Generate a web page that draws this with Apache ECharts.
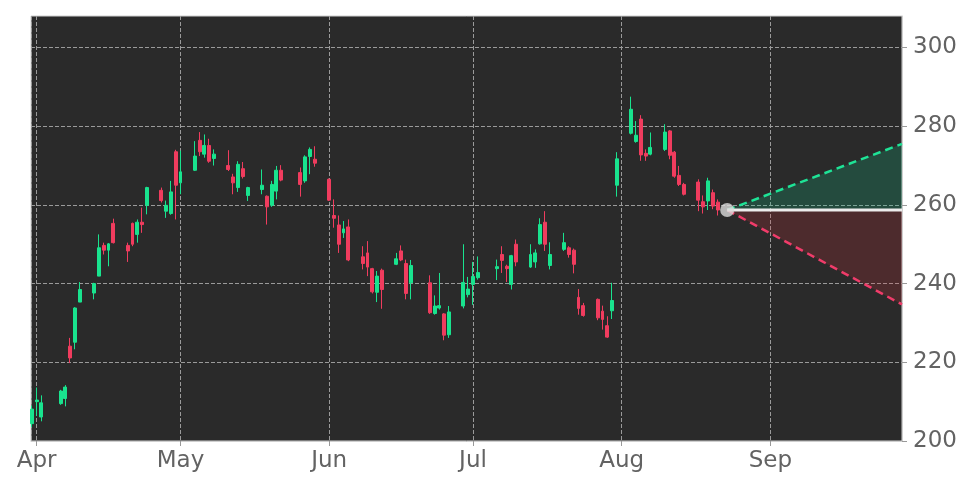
<!DOCTYPE html>
<html>
<head>
<meta charset="utf-8">
<script src="https://cdn.jsdelivr.net/npm/echarts@6/dist/echarts.min.js"></script>
<style>
html,body{margin:0;padding:0;background:#fff;}
#chart{width:972px;height:486px;}
</style>
</head>
<body>
<div id="chart"></div>
<script>
const dates = ['2015-03-31','2015-04-01','2015-04-02','2015-04-06','2015-04-07','2015-04-08','2015-04-09','2015-04-10',
'2015-04-13','2015-04-14','2015-04-15','2015-04-16','2015-04-17','2015-04-20','2015-04-21','2015-04-22','2015-04-23','2015-04-24',
'2015-04-27','2015-04-28','2015-04-29','2015-04-30','2015-05-01','2015-05-04','2015-05-05','2015-05-06','2015-05-07','2015-05-08',
'2015-05-11','2015-05-12','2015-05-13','2015-05-14','2015-05-15','2015-05-18','2015-05-19','2015-05-20','2015-05-21','2015-05-22',
'2015-05-26','2015-05-27','2015-05-28','2015-05-29','2015-06-01','2015-06-02','2015-06-03','2015-06-04','2015-06-05',
'2015-06-08','2015-06-09','2015-06-10','2015-06-11','2015-06-12','2015-06-15','2015-06-16','2015-06-17','2015-06-18',
'2015-06-22','2015-06-23','2015-06-24','2015-06-25','2015-06-26','2015-06-29','2015-06-30','2015-07-01','2015-07-02',
'2015-07-06','2015-07-07','2015-07-08','2015-07-09','2015-07-10','2015-07-13','2015-07-14','2015-07-15','2015-07-16','2015-07-17',
'2015-07-20','2015-07-21','2015-07-22','2015-07-23','2015-07-24','2015-07-27','2015-07-28','2015-07-29','2015-07-30','2015-07-31',
'2015-08-03','2015-08-04','2015-08-05','2015-08-06','2015-08-07','2015-08-10','2015-08-11','2015-08-12','2015-08-13','2015-08-14',
'2015-08-17','2015-08-18','2015-08-19','2015-08-20','2015-08-21'];
const opens = [204.4,210.0,206.1,209.5,210.8,224.1,225.1,235.3,
237.6,241.9,249.7,248.5,255.3,249.7,255.3,252.5,255.6,259.9,
263.7,258.4,257.8,273.5,265.6,268.8,276.4,272.9,275.1,271.8,
270.0,267.1,264.4,269.2,262.4,263.9,262.2,259.9,263.5,268.8,
268.2,266.1,272.3,271.6,266.5,257.3,254.9,252.9,254.4,
246.8,247.8,243.8,237.8,243.4,244.9,248.3,245.1,240.2,
240.2,232.4,233.8,232.3,227.0,234.3,237.2,239.8,241.5,
243.8,247.4,244.4,239.8,250.0,244.2,245.5,250.1,255.6,244.6,
248.7,249.1,248.5,236.5,234.4,236.0,233.0,229.3,233.1,265.0,
278.2,276.1,281.8,273.1,272.9,274.1,278.8,273.4,267.5,265.2,
265.8,260.8,261.0,263.1,260.7];
const closes = [208.1,210.4,209.7,212.7,213.7,221.1,233.8,238.5,
240.0,249.1,248.5,250.1,250.4,248.3,250.0,255.6,255.0,264.4,
261.1,259.9,263.3,265.0,268.4,272.4,273.5,275.1,271.1,272.9,
269.0,265.6,270.3,267.2,264.4,265.0,259.5,265.2,268.8,266.3,
265.2,272.2,274.1,270.6,261.2,256.6,250.0,253.9,246.0,
245.1,244.2,237.9,241.9,238.5,246.3,246.0,237.5,244.6,
232.6,234.3,234.4,226.9,232.8,240.3,238.6,241.8,242.8,
244.3,245.9,243.8,247.1,245.5,247.4,247.8,255.0,250.0,247.4,
250.4,247.4,244.9,233.7,231.9,231.3,230.9,226.4,235.7,271.7,
284.3,277.7,272.7,272.4,274.6,278.5,272.6,267.3,265.2,262.7,
261.2,259.5,266.1,259.7,258.7];
const lows = [203.5,206.4,205.0,209.2,208.8,219.8,223.3,235.3,
236.0,241.9,247.4,244.4,250.2,245.5,249.5,250.4,252.9,257.6,
260.6,256.7,257.5,256.3,262.7,268.6,272.4,272.0,270.7,270.0,
268.6,262.7,263.3,266.7,261.0,262.7,255.0,259.5,261.4,266.0,
262.1,265.6,267.8,269.7,261.0,254.2,247.8,251.6,245.7,
243.6,241.9,237.5,235.3,233.6,244.7,245.7,236.0,236.0,
232.3,232.1,233.4,225.6,226.2,233.7,236.5,234.6,241.0,
240.9,242.7,240.4,238.5,244.4,244.0,244.0,249.9,248.3,243.6,
248.3,246.6,242.6,232.1,231.6,230.7,228.3,226.2,231.0,262.1,
277.9,275.8,271.2,271.2,272.6,273.7,271.6,266.9,264.8,262.4,
258.4,257.8,258.7,258.9,257.3];
const highs = [209.0,213.6,211.6,213.0,214.2,226.2,234.0,240.4,
240.2,252.5,250.4,250.3,256.5,250.4,255.5,256.3,259.3,264.6,
264.4,261.1,266.1,274.0,273.8,276.2,278.5,277.9,276.8,274.1,
273.9,267.9,271.1,270.9,264.6,269.0,262.4,266.1,269.9,270.1,
269.5,272.6,274.6,274.9,266.7,261.4,257.3,255.9,256.3,
249.5,250.8,244.0,243.2,243.8,247.8,249.7,246.1,246.0,
242.1,237.0,242.7,232.5,234.3,250.0,241.7,245.5,246.9,
246.1,249.5,244.8,247.3,251.2,250.0,248.7,256.6,258.4,250.5,
252.9,249.5,248.9,238.6,235.1,236.2,234.4,231.7,240.2,273.4,
287.5,281.3,282.8,274.1,278.4,280.5,279.0,273.7,269.9,265.6,
266.5,262.4,266.9,263.9,261.4];

// projection cone
const coneStartDate = '2015-08-23';
const coneEndDate = '2015-09-28 11:00';
const coneBase = 258.7;
const coneUpper = 275.5;
const coneLower = 234.7;

const monthNames = ['Jan','Feb','Mar','Apr','May','Jun','Jul','Aug','Sep','Oct','Nov','Dec'];
const yTicks = [200, 220, 240, 260, 280, 300];

const candleData = dates.map((d, i) => [d, opens[i], closes[i], lows[i], highs[i]]);

const GREEN = '#19e38e';
const RED = '#f03c5e';
const font = 'DejaVu Sans';

const chart = echarts.init(document.getElementById('chart'), null, {renderer: 'canvas'});
chart.setOption({
  animation: false,
  backgroundColor: '#ffffff',
  grid: {
    left: 31, right: 70, top: 16, bottom: 45,
    show: true, backgroundColor: '#2a2a2a', borderColor: '#cfcfcf', borderWidth: 1
  },
  xAxis: {
    type: 'time',
    min: '2015-03-30 20:00',
    max: coneEndDate,
    splitNumber: 6,
    axisLine: {show: true, lineStyle: {color: '#cfcfcf', width: 1}},
    axisTick: {show: true, length: 5, lineStyle: {color: '#999'}},
    axisLabel: {
      color: '#636363', fontFamily: font, fontSize: 23, margin: 9,
      showMinLabel: false, showMaxLabel: false,
      formatter: function (v) {
        const d = new Date(v);
        if (d.getDate() === 1 && d.getHours() === 0) return monthNames[d.getMonth()];
        return '';
      }
    },
    splitLine: {show: true, lineStyle: {color: '#9a9a9a', type: [4, 2], width: 1}}
  },
  yAxis: {
    type: 'value',
    position: 'right',
    min: 200, max: 308, interval: 20,
    axisLine: {show: true, lineStyle: {color: '#cfcfcf'}},
    axisTick: {show: true, length: 5, lineStyle: {color: '#999'}, customValues: yTicks},
    axisLabel: {
      color: '#636363', fontFamily: font, fontSize: 23, margin: 11,
      customValues: yTicks,
      formatter: function (v) { return yTicks.indexOf(v) >= 0 ? String(v) : ''; }
    },
    splitLine: {show: true, lineStyle: {color: '#9a9a9a', type: [4, 2], width: 1}}
  },
  series: [
    {
      type: 'line',
      data: [[coneStartDate, coneBase], [coneEndDate, coneUpper]],
      symbol: 'none',
      lineStyle: {color: '#1ee396', width: 2.5, type: [8, 5]},
      areaStyle: {origin: coneBase, color: 'rgba(15,200,135,0.3)'},
      z: 3
    },
    {
      type: 'line',
      data: [[coneStartDate, coneBase], [coneEndDate, coneLower]],
      symbol: 'none',
      lineStyle: {color: '#f03c6a', width: 2.5, type: [8, 5]},
      areaStyle: {origin: coneBase, color: 'rgba(230,50,60,0.27)'},
      z: 3
    },
    {
      type: 'line',
      data: [[coneStartDate, coneBase], [coneEndDate, coneBase]],
      symbol: 'none',
      lineStyle: {color: '#ececec', width: 3},
      z: 4
    },
    {
      type: 'candlestick',
      data: candleData,
      encode: {x: 0, y: [1, 2, 3, 4]},
      barWidth: 3.4,
      itemStyle: {color: GREEN, color0: RED, borderColor: GREEN, borderColor0: RED, borderWidth: 1},
      z: 5
    },
    {
      type: 'scatter',
      data: [[coneStartDate, coneBase]],
      symbolSize: 14,
      itemStyle: {color: '#dcdcdc'},
      z: 6
    }
  ]
});
</script>
</body>
</html>
